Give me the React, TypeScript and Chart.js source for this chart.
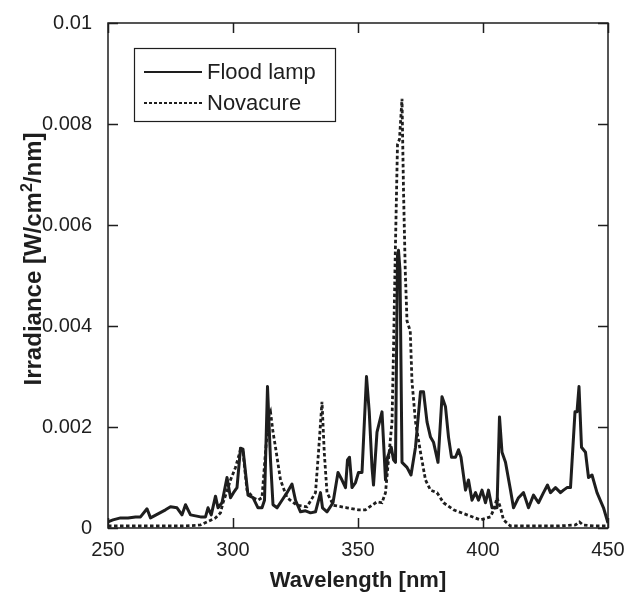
import React, { useEffect, useRef } from "react";
import { Chart, registerables } from "chart.js";

Chart.register(...registerables);

// Wavelength [nm] and irradiance [W/cm²/nm]
const floodWavelength = [
  250, 252, 255, 258, 261, 263, 265.6, 267, 270, 273, 275, 277.6, 279.6, 281, 283, 285, 287, 289, 290, 291.3,
  293, 294, 295.6, 297.6, 299, 300.2, 301.6, 303, 304, 305, 306, 308, 310, 311.6, 312.6, 313.8, 315, 316, 317.6,
  319.6, 321.6, 323.6, 325, 327, 329, 331, 333, 335, 335.8, 337.6, 340, 342, 343.6, 345, 345.8, 346.6, 347.6, 349,
  350.2, 351.6, 353.4, 354.5, 355.6, 356.2, 357.6, 358.6, 359.6, 361, 361.8, 363.3, 364.2, 365, 365.8, 366.2, 366.8,
  367.6, 369.6, 371.2, 373, 375, 376.2, 377.6, 379, 380.2, 382, 383.6, 385, 386.2, 387.4, 389, 390.2, 391.2, 393,
  394.2, 395.6, 397, 398.2, 399.6, 401, 402.2, 403.6, 405.6, 406.6, 407.6, 409, 411, 412.2, 414.2, 416.2, 418.2,
  420.2, 422.2, 424.2, 425.8, 427, 429, 431, 432.2, 433.6, 435, 436.8, 437.6, 438.4, 439.4, 441, 442.2, 443.6,
  445.6, 448.2, 450,
];
const floodIrradiance = [
  0.00012, 0.00016, 0.0002, 0.0002, 0.00022, 0.00022, 0.00038, 0.0002, 0.00028, 0.00036, 0.00042, 0.0004, 0.00026,
  0.00046, 0.00026, 0.00024, 0.00022, 0.00022, 0.0004, 0.00026, 0.00063, 0.0004, 0.0005, 0.001, 0.0006, 0.0007,
  0.0008, 0.00158, 0.00156, 0.0011, 0.00065, 0.0006, 0.0004, 0.0004, 0.00055, 0.0028, 0.00135, 0.00046, 0.0004,
  0.00055, 0.0007, 0.00087, 0.00055, 0.00032, 0.00034, 0.0003, 0.00032, 0.0007, 0.0004, 0.00032, 0.0005, 0.0011,
  0.00095, 0.0008, 0.00135, 0.0014, 0.0008, 0.0009, 0.0011, 0.0011, 0.003, 0.0023, 0.0012, 0.00085, 0.0019, 0.0021,
  0.0023, 0.00095, 0.0014, 0.0016, 0.00135, 0.0013, 0.0054, 0.0055, 0.0051, 0.0013, 0.0012, 0.00105, 0.0016, 0.0027,
  0.0027, 0.0021, 0.0018, 0.0017, 0.0013, 0.0026, 0.0024, 0.0018, 0.0014, 0.0014, 0.00155, 0.0014, 0.00075, 0.00095,
  0.00055, 0.0007, 0.00055, 0.00075, 0.0005, 0.00075, 0.0004, 0.0004, 0.0022, 0.0015, 0.0013, 0.00075, 0.0004,
  0.0006, 0.0007, 0.0004, 0.00065, 0.0005, 0.0007, 0.00085, 0.0007, 0.0008, 0.0007, 0.00075, 0.0008, 0.0008,
  0.0023, 0.0023, 0.0028, 0.0016, 0.0015, 0.001, 0.00105, 0.0007, 0.0004, 0.0001,
];

const novaWavelength = [
  250, 260, 270, 280, 285, 287, 289.6, 293, 295, 296, 297.4, 299, 301, 303, 304, 305.6, 308, 310, 311.6, 313,
  314.2, 315, 316, 317, 319, 321.6, 325.6, 329.6, 333, 334.2, 335.6, 336.5, 337.6, 340.2, 345.6, 350.2, 353, 355.6,
  357.6, 359.6, 361, 362.2, 363.6, 364.2, 364.9, 365.8, 366.6, 367.6, 368.2, 368.9, 369.6, 370.9, 371.6, 373, 375,
  377, 379, 381.6, 384.2, 388.2, 393.6, 399, 403, 404.6, 405.6, 407, 408.2, 411, 420, 430, 437, 438.6, 440, 445, 450,
];
const novaIrradiance = [
  0.00004, 0.00004, 0.00004, 0.00004, 0.00005, 0.00006, 0.00012, 0.0002, 0.0003, 0.0005, 0.0007, 0.00095, 0.0012,
  0.00155, 0.0015, 0.00075, 0.0006, 0.00055, 0.0006, 0.0015, 0.0022, 0.0023, 0.0019, 0.0016, 0.00095, 0.0006,
  0.00045, 0.00042, 0.0007, 0.0015, 0.0025, 0.0015, 0.0007, 0.00045, 0.0004, 0.00036, 0.00036, 0.00045, 0.00052,
  0.0005, 0.0007, 0.00135, 0.0021, 0.0035, 0.0054, 0.0076, 0.0077, 0.0085, 0.0067, 0.0051, 0.0041, 0.0039, 0.0029,
  0.0021, 0.0015, 0.00095, 0.00075, 0.0007, 0.0005, 0.00036, 0.00026, 0.00016, 0.00022, 0.0004, 0.0006, 0.0004,
  0.00016, 0.00004, 0.00004, 0.00004, 0.00006, 0.00012, 0.00006, 0.00004, 0.00004,
];

const seriesLabels = ["Flood lamp", "Novacure"];
const xTickLabels = ["250", "300", "350", "400", "450"];
const yTickLabels = ["0", "0.002", "0.004", "0.006", "0.008", "0.01"];
const xTitle = "Wavelength [nm]";
const yTitleParts = ["Irradiance [W/cm", "2", "/nm]"];

const FONT = "'Liberation Sans', Arial, Helvetica, sans-serif";
const INK = "#1e1e1e";

const framePlugin = {
  id: "frameTicksLegend",
  afterDatasetsDraw(chart: any) {
    const { ctx, chartArea: a, scales } = chart;
    ctx.save();
    ctx.strokeStyle = INK;
    ctx.lineWidth = 1.5;
    ctx.strokeRect(a.left, a.top, a.right - a.left, a.bottom - a.top);
    const tl = 10;
    ctx.beginPath();
    scales.x.ticks.forEach((t: any) => {
      const px = Math.round(scales.x.getPixelForValue(t.value)) + 0.5;
      ctx.moveTo(px, a.bottom);
      ctx.lineTo(px, a.bottom - tl);
      ctx.moveTo(px, a.top);
      ctx.lineTo(px, a.top + tl);
    });
    scales.y.ticks.forEach((t: any) => {
      const py = Math.round(scales.y.getPixelForValue(t.value)) + 0.5;
      ctx.moveTo(a.left, py);
      ctx.lineTo(a.left + tl, py);
      ctx.moveTo(a.right, py);
      ctx.lineTo(a.right - tl, py);
    });
    ctx.stroke();

    // y-axis title with superscript
    ctx.save();
    ctx.fillStyle = INK;
    ctx.textBaseline = "alphabetic";
    ctx.textAlign = "left";
    const bigFont = `bold 24px ${FONT}`;
    const smallFont = `bold 16px ${FONT}`;
    ctx.font = bigFont;
    const w0 = ctx.measureText(yTitleParts[0]).width;
    const w2 = ctx.measureText(yTitleParts[2]).width;
    ctx.font = smallFont;
    const w1 = ctx.measureText(yTitleParts[1]).width;
    const total = w0 + w1 + w2;
    const cx = 41;
    const cy = a.top + 236;
    ctx.translate(cx, cy);
    ctx.rotate(-Math.PI / 2);
    let x = -total / 2;
    ctx.font = bigFont;
    ctx.fillText(yTitleParts[0], x, 0);
    x += w0;
    ctx.font = smallFont;
    ctx.fillText(yTitleParts[1], x, -9);
    x += w1;
    ctx.font = bigFont;
    ctx.fillText(yTitleParts[2], x, 0);
    ctx.restore();

    // legend box
    const bx = a.left + 26;
    const by = a.top + 25;
    const bw = 201;
    const bh = 73;
    ctx.fillStyle = "#fff";
    ctx.fillRect(bx, by, bw, bh);
    ctx.lineWidth = 1.2;
    ctx.strokeRect(bx + 0.5, by + 0.5, bw, bh);
    ctx.font = `22px ${FONT}`;
    ctx.textBaseline = "middle";
    ctx.textAlign = "left";
    ctx.fillStyle = INK;
    chart.data.datasets.forEach((ds: any, i: number) => {
      const cy2 = by + 24 + i * 31;
      ctx.beginPath();
      ctx.lineWidth = 2;
      ctx.setLineDash(ds.borderDash ? [3, 2] : []);
      ctx.moveTo(bx + 10, cy2);
      ctx.lineTo(bx + 68, cy2);
      ctx.stroke();
      ctx.setLineDash([]);
      ctx.fillText(ds.label, bx + 73, cy2 + 1);
    });
    ctx.restore();
  },
};

export default function App() {
  const canvasRef = useRef<HTMLCanvasElement | null>(null);

  useEffect(() => {
    const canvas = canvasRef.current;
    if (!canvas) return;
    const floodData = floodWavelength.map((x, i) => ({ x, y: floodIrradiance[i] }));
    const novaData = novaWavelength.map((x, i) => ({ x, y: novaIrradiance[i] }));

    const chart = new Chart(canvas, {
      type: "line",
      data: {
        datasets: [
          {
            label: seriesLabels[0],
            data: floodData,
            borderColor: INK,
            borderWidth: 3,
            pointRadius: 0,
            tension: 0,
            borderJoinStyle: "round",
          },
          {
            label: seriesLabels[1],
            data: novaData,
            borderColor: INK,
            borderWidth: 2.8,
            borderDash: [3.5, 2.5],
            pointRadius: 0,
            tension: 0,
          },
        ],
      },
      options: {
        animation: false,
        responsive: true,
        maintainAspectRatio: false,
        layout: { padding: { top: 23, right: 27, left: 0, bottom: 0 } },
        plugins: { legend: { display: false }, tooltip: { enabled: false } },
        scales: {
          x: {
            type: "linear",
            min: 250,
            max: 450,
            grid: { display: false },
            border: { display: false },
            ticks: {
              stepSize: 50,
              autoSkip: false,
              maxRotation: 0,
              padding: 2,
              color: INK,
              font: { family: FONT, size: 20 },
              callback: (_v: any, i: number) => xTickLabels[i],
            },
            title: {
              display: true,
              text: xTitle,
              color: INK,
              font: { family: FONT, size: 22, weight: "bold" },
              padding: { top: 0, bottom: 0 },
            },
            afterFit: (s: any) => {
              s.height = 66;
            },
          },
          y: {
            type: "linear",
            min: 0,
            max: 0.01,
            grid: { display: false },
            border: { display: false },
            ticks: {
              stepSize: 0.002,
              autoSkip: false,
              padding: 8,
              color: INK,
              font: { family: FONT, size: 20 },
              callback: (_v: any, i: number) => yTickLabels[i],
            },
            title: { display: false },
            afterFit: (s: any) => {
              s.width = 108;
            },
          },
        },
      },
      plugins: [framePlugin],
    });
    return () => chart.destroy();
  }, []);

  return (
    <div style={{ position: "absolute", left: 0, top: 0, width: 635, height: 594, background: "#fff" }}>
      <canvas ref={canvasRef} />
    </div>
  );
}
